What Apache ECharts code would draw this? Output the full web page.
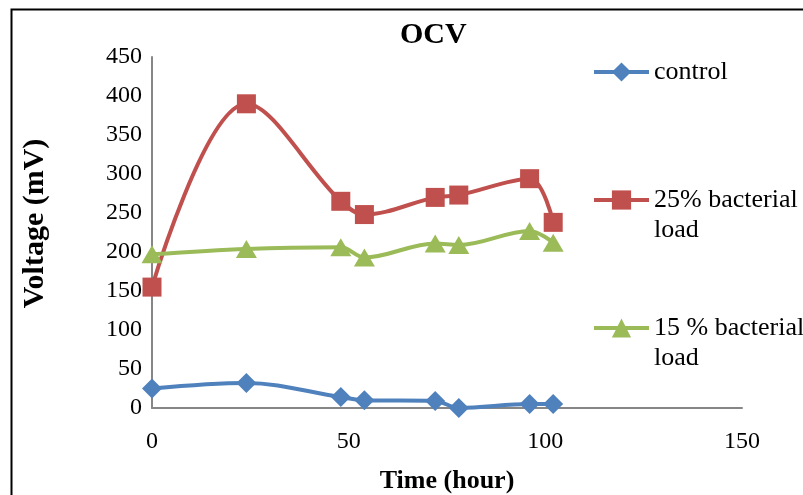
<!DOCTYPE html>
<html>
<head>
<meta charset="utf-8">
<style>
  html, body { margin: 0; padding: 0; background: #fff; }
  #chart { width: 803px; height: 495px; }
</style>
<script src="https://cdn.jsdelivr.net/npm/echarts@6/dist/echarts.min.js"></script>
</head>
<body>
<div id="chart"></div>
<script>
// Sampling times (hours)
const hours = [0, 24, 48, 54, 72, 78, 96, 102];

// Open-circuit voltage readings (mV)
const control = [25, 32, 14, 10, 9, 0, 5, 5];
const load25 = [155, 390, 265, 248, 270, 273, 294, 238];
const load15 = [197, 204, 206, 193, 211, 209, 227, 212];

const seriesNames = ['control', '25% bacterial\nload', '15 % bacterial\nload'];

const xTicks = { min: 0, max: 150, interval: 50 };
const yTicks = { min: 0, max: 450, interval: 50 };

const FONT = '"Liberation Serif", "Times New Roman", serif';
const pair = (xs, ys) => xs.map((x, i) => [x, ys[i]]);

// Legend labels are padded to three lines so the icon sits on the first text line
const legendLabel = name => name.includes('\n') ? ' \n' + name : ' \n' + name + '\n ';

const chart = echarts.init(document.getElementById('chart'), null, { renderer: 'canvas' });

chart.setOption({
  backgroundColor: '#ffffff',
  animation: false,
  title: {
    text: 'OCV',
    left: 395,
    top: 15,
    textStyle: { fontFamily: FONT, fontSize: 30, fontWeight: 'bold', color: '#000' }
  },
  graphic: [{
    type: 'rect',
    left: 9,
    top: 7,
    shape: { width: 820, height: 520 },
    style: { fill: 'none', stroke: '#000', lineWidth: 2 },
    silent: true,
    z: -1
  }],
  grid: { left: 152, right: 61, top: 57, bottom: 87, containLabel: false, outerBoundsMode: 'none' },
  legend: {
    orient: 'vertical',
    left: 592,
    top: 27,
    padding: 0,
    itemGap: 38,
    itemWidth: 55,
    itemHeight: 24,
    formatter: legendLabel,
    lineStyle: { width: 4 },
    textStyle: { fontFamily: FONT, fontSize: 26, color: '#000', lineHeight: 30 },
    data: seriesNames
  },
  xAxis: {
    type: 'value',
    min: xTicks.min, max: xTicks.max, interval: xTicks.interval,
    name: 'Time (hour)',
    nameLocation: 'middle',
    nameGap: 60,
    nameTextStyle: { fontFamily: FONT, fontSize: 26, fontWeight: 'bold', color: '#000' },
    axisLine: { lineStyle: { color: '#868686', width: 2 } },
    axisTick: { show: false },
    splitLine: { show: false },
    axisLabel: { fontFamily: FONT, fontSize: 24, color: '#000', margin: 22 }
  },
  yAxis: {
    type: 'value',
    min: yTicks.min, max: yTicks.max, interval: yTicks.interval,
    name: 'Voltage (mV)',
    nameLocation: 'middle',
    nameGap: 102,
    nameTextStyle: { fontFamily: FONT, fontSize: 30, fontWeight: 'bold', color: '#000', padding: [0, 0, 0, 18] },
    axisLine: { show: true, lineStyle: { color: '#868686', width: 2 } },
    axisTick: { show: false },
    splitLine: { show: false },
    axisLabel: { fontFamily: FONT, fontSize: 24, color: '#000', margin: 10 }
  },
  series: [
    {
      name: seriesNames[0],
      type: 'line',
      data: pair(hours, control),
      smooth: 0.35,
      symbol: 'diamond',
      symbolSize: 20,
      color: '#4F81BD',
      lineStyle: { width: 4, color: '#4F81BD' },
      itemStyle: { color: '#4F81BD' },
      z: 3
    },
    {
      name: seriesNames[1],
      type: 'line',
      data: pair(hours, load25),
      smooth: 0.35,
      symbol: 'rect',
      symbolSize: 19,
      color: '#C0504D',
      lineStyle: { width: 4, color: '#C0504D' },
      itemStyle: { color: '#C0504D' },
      z: 2
    },
    {
      name: seriesNames[2],
      type: 'line',
      data: pair(hours, load15),
      smooth: 0.35,
      symbol: 'triangle',
      symbolSize: [21, 18],
      color: '#9BBB59',
      lineStyle: { width: 4, color: '#9BBB59' },
      itemStyle: { color: '#9BBB59' },
      z: 2
    }
  ]
});
</script>
</body>
</html>
